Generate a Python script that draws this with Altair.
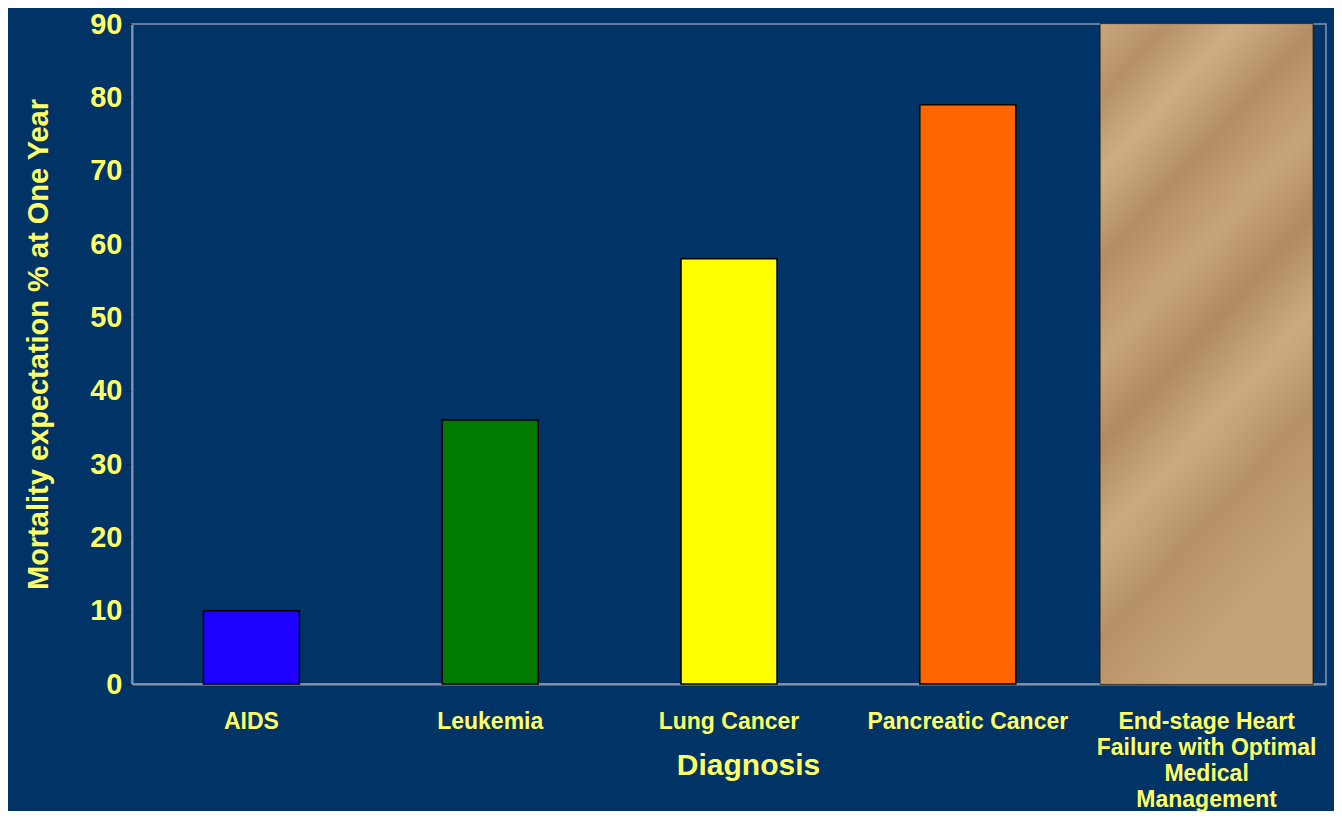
import altair as alt
import pandas as pd

categories = [
    "AIDS",
    "Leukemia",
    "Lung Cancer",
    "Pancreatic Cancer",
    "End-stage Heart Failure with Optimal Medical Management",
]
mortality = [10, 36, 58, 79, 90]
bar_colors = ["#1E00FF", "#007A00", "#FFFF00", "#FF6600", "#C4A074"]
last_label_lines = ["End-stage Heart", "Failure with Optimal", "Medical", "Management"]
y_ticks = [0, 10, 20, 30, 40, 50, 60, 70, 80, 90]

df = pd.DataFrame({"diagnosis": categories, "mortality": mortality})
last = categories[-1]

BG = "#003366"
TXT = "#FFFF66"
FRAME = "#8096B4"
FONT = "Liberation Sans"

lines_expr = "[" + ", ".join("'" + s + "'" for s in last_label_lines) + "]"

x_enc = alt.X(
    "diagnosis:N",
    sort=categories,
    scale=alt.Scale(paddingInner=0, paddingOuter=0),
    axis=alt.Axis(
        title="Diagnosis",
        labelAngle=0,
        ticks=False,
        labelPadding=26,
        labelFontSize=23,
        labelFont=FONT,
        labelFontWeight="bold",
        labelColor=TXT,
        labelLimit=400,
        labelOverlap=False,
        labelLineHeight=26,
        labelExpr=f"datum.label == '{last}' ? {lines_expr} : datum.label",
        titleFontSize=30,
        titleFont=FONT,
        titleFontWeight="bold",
        titleColor=TXT,
        titleX=616,
        titleY=81,
        titleAlign="center",
        titleBaseline="middle",
        domainColor=FRAME,
        domainWidth=2,
    ),
)

y_enc = alt.Y(
    "mortality:Q",
    scale=alt.Scale(domain=[0, 90], nice=False, zero=True),
    axis=alt.Axis(
        title="Mortality expectation % at One Year",
        values=y_ticks,
        grid=False,
        tickColor="#0b1d38",
        tickSize=6,
        labelPadding=4,
        labelFontSize=29,
        labelFont=FONT,
        labelFontWeight="bold",
        labelColor=TXT,
        titleFontSize=29,
        titleFont=FONT,
        titleFontWeight="bold",
        titleColor=TXT,
        titleX=-94,
        titleY=320,
        titleAngle=-90,
        titleAlign="center",
        titleBaseline="middle",
        domainColor=FRAME,
        domainWidth=2,
    ),
)

size_enc = alt.condition(f"datum.diagnosis == '{last}'", alt.value(212), alt.value(96))

base = alt.Chart(df).mark_bar(stroke="black", strokeWidth=1.5).encode(
    x=x_enc,
    y=y_enc,
    size=size_enc,
    color=alt.Color(
        "diagnosis:N",
        sort=categories,
        scale=alt.Scale(domain=categories, range=bar_colors),
        legend=None,
    ),
)

paper = alt.Gradient(
    gradient="linear",
    stops=[
        alt.GradientStop(color="#C9A67A", offset=0.0),
        alt.GradientStop(color="#B69166", offset=0.1),
        alt.GradientStop(color="#CFAD83", offset=0.2),
        alt.GradientStop(color="#B38E62", offset=0.32),
        alt.GradientStop(color="#C8A579", offset=0.45),
        alt.GradientStop(color="#B08B5F", offset=0.57),
        alt.GradientStop(color="#CCAA80", offset=0.7),
        alt.GradientStop(color="#B69166", offset=0.83),
        alt.GradientStop(color="#C6A377", offset=1.0),
    ],
    x1=0, y1=0, x2=0.35, y2=1,
)

texture = (
    alt.Chart(df)
    .transform_filter(f"datum.diagnosis == '{last}'")
    .mark_bar(fill=paper, stroke="#9C7A52", strokeWidth=0.5)
    .encode(x=alt.X("diagnosis:N", sort=categories), y="mortality:Q", size=size_enc)
)

chart = (
    alt.layer(base, texture)
    .properties(
        width=1194,
        height=660,
        background=BG,
        autosize=alt.AutoSizeParams(type="none"),
        padding={"left": 124, "top": 16, "right": 8, "bottom": 127},
    )
    .configure_view(stroke=FRAME, strokeWidth=1.5)
)

chart.save("out.html", embed_options={"renderer": "svg", "actions": False})
